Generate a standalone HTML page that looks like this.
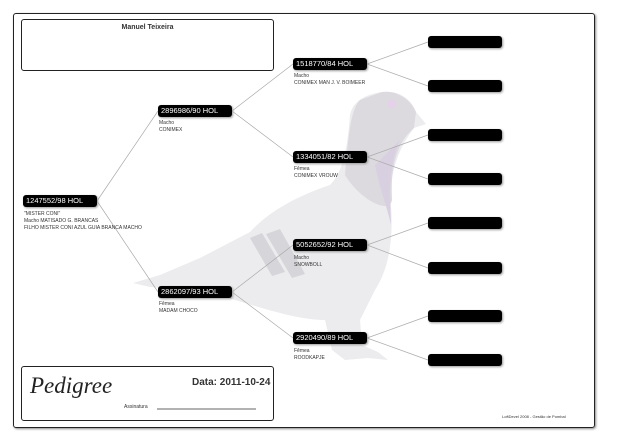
<!DOCTYPE html>
<html><head><meta charset="utf-8"><style>
body{margin:0;background:#fff;width:620px;height:439px;overflow:hidden;position:relative;font-family:"Liberation Sans",sans-serif}
.b{position:absolute;background:#000;color:#fff;border-radius:3px;height:12px;font-size:7.5px;line-height:12px;padding-left:3px;box-sizing:border-box;box-shadow:1px 1px 2px #999;width:74px}
.t{position:absolute;font-size:5px;color:#333;line-height:7px;white-space:nowrap}
</style></head><body>
<div style="position:absolute;left:13px;top:13px;width:580px;height:413px;border:1.5px solid #222;border-radius:3px;box-shadow:1px 1px 2px #888"></div>
<svg style="position:absolute;left:0;top:0" width="620" height="439">
<path d="M382,92 C400,90 412,100 416,112 L426,124 L414,128 C405,140 392,160 390,195 C395,240 388,270 375,290 L360,320 L362,345 L378,352 L388,360 L368,358 L345,360 L332,350 L325,320 C290,320 240,300 200,290 L150,287 L133,283 L160,275 L200,258 L250,232 C270,210 300,195 330,185 C345,170 348,140 350,115 C352,105 360,95 382,92 Z" fill="#ececef"/>
<path d="M360,100 C350,110 348,140 345,175 C360,200 390,215 392,200 C390,160 400,140 414,128 L416,112 C410,98 395,90 382,92 Z" fill="#dcdadf"/>
<path d="M375,165 C380,190 388,210 391,225 L390,195 C390,170 395,150 400,140 Z" fill="#d8cfe0"/>
<path d="M250,238 L262,233 L285,272 L272,276 Z M266,234 L280,229 L305,274 L292,278 Z" fill="#d6d6da"/>
<circle cx="392" cy="104" r="4" fill="#e6d0ea"/>
<g stroke="#aaa" stroke-width="0.7" fill="none">
<line x1="97" y1="201" x2="158" y2="111"/><line x1="97" y1="201" x2="158" y2="292"/>
<line x1="232" y1="111" x2="293" y2="64"/><line x1="232" y1="111" x2="293" y2="157"/>
<line x1="232" y1="292" x2="293" y2="245"/><line x1="232" y1="292" x2="293" y2="338"/>
<line x1="367" y1="64" x2="428" y2="42"/><line x1="367" y1="64" x2="428" y2="86"/>
<line x1="367" y1="157" x2="428" y2="135"/><line x1="367" y1="157" x2="428" y2="179"/>
<line x1="367" y1="245" x2="428" y2="223"/><line x1="367" y1="245" x2="428" y2="268"/>
<line x1="367" y1="338" x2="428" y2="316"/><line x1="367" y1="338" x2="428" y2="360"/>
</g>
<line x1="157" y1="409" x2="256" y2="409" stroke="#333" stroke-width="0.7"/>
</svg>
<div style="position:absolute;left:21px;top:19px;width:253px;height:52px;border:1.5px solid #222;border-radius:3px;box-sizing:border-box"></div>
<div style="position:absolute;left:21px;top:24px;width:253px;text-align:center;font-size:7px;font-weight:bold;color:#333">Manuel Teixeira</div>
<div style="position:absolute;left:21px;top:366px;width:253px;height:55px;border:1.5px solid #222;border-radius:3px;box-sizing:border-box"></div>
<div style="position:absolute;left:30px;top:373px;font-family:'Liberation Serif',serif;font-style:italic;font-size:23px;color:#222">Pedigree</div>
<div style="position:absolute;left:192px;top:377px;font-size:10px;font-weight:bold;color:#333">Data: 2011-10-24</div>
<div style="position:absolute;left:124px;top:404px;font-size:5px;color:#333">Assinatura</div>
<div style="position:absolute;left:502px;top:414px;font-size:4px;color:#333">LoftDevel 2008 - Gestão de Pombal</div>
<div class="b" style="left:23px;top:195px">1247552/98 HOL</div>
<div class="t" style="left:24px;top:211px">"MISTER CONI"<br>Macho MATISADO G. BRANCAS<br>FILHO MISTER CONI AZUL GUIA BRANCA MACHO</div>
<div class="b" style="left:158px;top:105px">2896986/90 HOL</div>
<div class="t" style="left:159px;top:120px">Macho<br>CONIMEX</div>
<div class="b" style="left:158px;top:286px">2862097/93 HOL</div>
<div class="t" style="left:159px;top:301px">Fêmea<br>MADAM CHOCO</div>
<div class="b" style="left:293px;top:58px">1518770/84 HOL</div>
<div class="t" style="left:294px;top:73px">Macho<br>CONIMEX MAN J. V. BOIMEER</div>
<div class="b" style="left:293px;top:151px">1334051/82 HOL</div>
<div class="t" style="left:294px;top:166px">Fêmea<br>CONIMEX VROUW</div>
<div class="b" style="left:293px;top:239px">5052652/92 HOL</div>
<div class="t" style="left:294px;top:255px">Macho<br>SNOWBOLL</div>
<div class="b" style="left:293px;top:332px">2920490/89 HOL</div>
<div class="t" style="left:294px;top:348px">Fêmea<br>ROODKAPJE</div>
<div class="b" style="left:428px;top:36px"></div>
<div class="b" style="left:428px;top:80px"></div>
<div class="b" style="left:428px;top:129px"></div>
<div class="b" style="left:428px;top:173px"></div>
<div class="b" style="left:428px;top:217px"></div>
<div class="b" style="left:428px;top:262px"></div>
<div class="b" style="left:428px;top:310px"></div>
<div class="b" style="left:428px;top:354px"></div>
</body></html>
